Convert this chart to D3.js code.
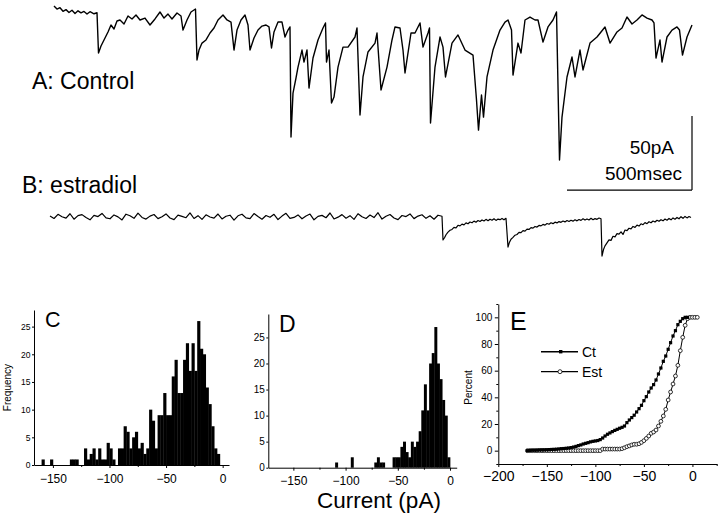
<!DOCTYPE html>
<html><head><meta charset="utf-8">
<script src="https://cdn.jsdelivr.net/npm/d3@7"></script>
<style>body{margin:0;background:#fff}svg{display:block}text{font-family:"Liberation Sans",Arial,Helvetica,sans-serif;fill:#000}</style>
</head><body><svg id="c" width="720" height="520"></svg>
<script>
// ---- Trace A (control): time in ms, current in pA ----
const aTime = [0,12,24,36,48,60,72,84,96,108,120,132,144,160,172,178,188,204,216,228,240,252,264,280,296,312,328,344,364,384,404,424,440,456,472,492,508,516,532,548,566,572,580,592,608,624,640,656,676,692,708,720,732,748,764,776,784,800,816,832,848,860,870,880,896,912,924,936,944,948,956,968,976,992,1000,1012,1020,1036,1056,1076,1086,1090,1100,1110,1120,1136,1156,1176,1204,1212,1224,1236,1256,1284,1292,1308,1332,1352,1364,1384,1396,1404,1428,1444,1464,1476,1496,1502,1506,1524,1544,1556,1566,1592,1616,1644,1676,1690,1698,1710,1718,1732,1756,1784,1804,1816,1830,1836,1856,1868,1884,1904,1924,1936,1956,1976,1996,2010,2022,2032,2052,2072,2084,2104,2116,2144,2172,2204,2224,2252,2272,2292,2312,2332,2352,2372,2392,2400,2408,2424,2432,2452,2472,2492,2502,2514,2532,2552];
const aCurrent = [4.1,2.0,2.9,0.5,1.6,-0.3,1.2,-1.0,0.8,-0.6,0.4,-1.4,0.2,-1.2,-0.5,-27.7,-23.0,-17.6,-13.5,-8.8,-11.5,-6.1,-5.4,-8.1,-2.7,-4.7,-2.0,-5.4,-4.1,-8.8,-4.7,0,-4.1,-1.4,-4.7,-0.7,-2.7,-12.2,-5.4,0,2.0,-32.4,-25.7,-21.0,-18.9,-14.2,-10.8,-5.4,-2.0,-5.4,-6.8,-25.7,-12.2,-5.4,-2.0,-8.8,-25.7,-17.6,-12.2,-9.5,-8.8,-10.1,-24.3,-13.5,-6.8,-6.8,-16.9,-12.2,-10.1,-84.5,-54.8,-44.6,-37.2,-25.7,-33.8,-25.7,-51.4,-31.1,-18.9,-10.8,-7.4,-33.8,-25.7,-61.5,-57.5,-37.2,-23.7,-23.7,-16.9,-10.8,-69.6,-43.9,-27.0,-21.0,-14.2,-52.7,-37.2,-18.9,-10.1,-10.8,-25.7,-41.2,-14.2,-14.2,-7.4,-23.7,-14.2,-10.8,-75.0,-37.2,-16.9,-23.7,-43.9,-21.0,-15.5,-25.7,-29.1,-59.5,-79.8,-56.1,-71.0,-43.9,-25.7,-12.2,-6.8,-5.4,-12.2,-42.6,-21.0,-27.7,-5.4,-3.4,-5.4,-5.4,-20.3,-10.1,-5.4,0,-100.0,-71.0,-43.9,-30.4,-43.9,-25.7,-39.2,-21.0,-16.9,-10.1,-21.0,-13.5,-10.8,-3.4,-8.1,-5.4,-2.0,-4.1,-5.4,-7.4,-31.1,-18.9,-33.8,-16.9,-12.2,-10.1,-12.2,-29.1,-16.9,-8.8];

// ---- Trace B (estradiol): quiet baseline, then three events ----
const bBaseTime = [0,16,32,48,64,80,96,112,128,144,160,176,192,208,224,240,256,272,288,304,320,336,352,368,384,400,416,432,448,464,480,496,512,528,544,560,576,592,608,624,640,656,672,688,704,720,736,752,768,784,800,816,832,848,864,880,896,912,928,944,960,976,992,1008,1024,1040,1056,1072,1088,1104,1120,1136,1152,1168,1184,1200,1216,1232,1248,1264,1280,1296,1312,1328,1344,1360,1376,1392,1408,1424,1440,1456,1472,1488,1504,1520,1536,1552];
const bBaseCurrent = [0.7,-1.0,1.8,0.2,-0.8,2.2,-1.5,0.9,1.6,-0.4,-1.9,1.1,0.3,2.4,-0.6,-1.2,1.4,0.1,-2.0,1.9,0.8,-0.9,2.6,-0.3,-1.4,0.6,1.7,-1.1,0.2,2.1,-0.7,-1.8,1.3,0.4,-0.5,2.8,-1.0,0.9,-1.6,1.5,0.0,-0.8,2.0,-1.3,0.5,1.2,-2.1,0.8,1.9,-0.6,-1.1,2.3,0.3,-1.5,1.0,-0.2,1.8,-1.7,0.6,2.5,-0.9,-0.3,1.4,-1.2,0.7,2.0,-1.9,0.4,1.1,-0.5,2.7,-1.3,-0.1,1.6,-0.8,0.9,-1.6,2.2,0.2,-1.0,1.3,-0.4,2.9,-1.4,0.5,1.7,-0.7,-1.8,1.0,0.3,2.1,-1.1,0.6,1.5,-0.9,0.8,-1.5,1.2];
const bEvtTime = [1568,1572,1578,1584,1592,1600,1608,1616,1624,1632,1640,1648,1656,1664,1672,1680,1688,1696,1704,1712,1720,1728,1736,1744,1752,1760,1768,1776,1784,1792,1800,1808,1816,1824,
 1832,1838,1844,1852,1860,1868,1876,1884,1892,1900,1908,1916,1924,1932,1940,1948,1956,1964,1972,1980,1988,1996,2004,2012,2020,2028,2036,2044,2052,2060,2068,2076,2084,2092,2100,2108,2116,2124,2132,2140,2148,2156,2164,2172,2180,2188,2196,2204,
 2208,2214,2220,2228,2236,2244,2252,2260,2268,2276,2284,2292,2300,2308,2316,2324,2332,2340,2348,2356,2364,2372,2380,2388,2396,2404,2412,2420,2428,2436,2444,2452,2460,2468,2476,2484,2492,2500,2508,2516,2524,2532,2540,2548,2556,2564];
const bEvtCurrent = [0.5,-15.5,-14,-12.0,-10.2,-9.0,-8.4,-7.0,-7.4,-5.6,-6.0,-4.8,-5.3,-4.0,-4.6,-3.4,-3.9,-2.8,-3.5,-2.4,-3.0,-2.0,-2.7,-1.6,-2.5,-1.5,-2.2,-1.2,-2.3,-1.4,-1.8,-1.0,-1.9,-0.9,
 -20.3,-17,-15.0,-13.8,-12.3,-11.8,-10.4,-10.6,-9.2,-9.5,-8.2,-8.4,-7.2,-7.5,-6.4,-6.8,-5.7,-6.0,-5.0,-5.5,-4.4,-4.9,-3.9,-4.5,-3.5,-4.0,-3.1,-3.6,-2.7,-3.3,-2.4,-3.0,-2.2,-2.8,-1.9,-2.6,-1.7,-2.3,-1.2,-2.1,-1.3,-2.0,-0.9,-1.8,-1.1,-1.6,-0.7,-1.2,
 -26.4,-22,-19.5,-17.5,-15.5,-15.8,-13.0,-13.4,-11.2,-11.6,-10.0,-11.8,-8.8,-9.2,-7.6,-8.0,-6.4,-7.0,-5.5,-6.1,-4.6,-5.2,-3.8,-4.5,-3.2,-3.9,-2.7,-3.4,-2.2,-2.9,-1.8,-2.6,-1.4,-2.2,-1.0,-1.9,-0.6,-1.5,-0.3,-1.2,0.2,-0.9,0.4,-0.6,0.3,-0.4];

// ---- Histogram C (control) ----
const cBinLeft = [-160,-157.5,-155,-152.5,-150,-147.5,-145,-142.5,-140,-137.5,-135,-132.5,-130,-127.5,-125,-122.5,-120,-117.5,-115,-112.5,-110,-107.5,-105,-102.5,-100,-97.5,-95,-92.5,-90,-87.5,-85,-82.5,-80,-77.5,-75,-72.5,-70,-67.5,-65,-62.5,-60,-57.5,-55,-52.5,-50,-47.5,-45,-42.5,-40,-37.5,-35,-32.5,-30,-27.5,-25,-22.5,-20,-17.5,-15,-12.5,-10,-7.5,-5];
const cCounts = [1,0,0,1,0,0,0,0,0,0,1,1,1,0,0,3,1,2,3,1,3,1,1,4,3,1,0,3,3,7,6,3,5,6,3,4,2,3,10,8,3,9,9,13,9,9,16,19,13,13,19,22,17,22,17,26,21,20,14,11,7,3,2];
// ---- Histogram D (estradiol) ----
const dBinLeft = [-110,-107.5,-105,-102.5,-100,-97.5,-95,-92.5,-90,-87.5,-85,-82.5,-80,-77.5,-75,-72.5,-70,-67.5,-65,-62.5,-60,-57.5,-55,-52.5,-50,-47.5,-45,-42.5,-40,-37.5,-35,-32.5,-30,-27.5,-25,-22.5,-20,-17.5,-15,-12.5,-10,-7.5,-5,-2.5];
const dCounts = [1,0,0,0,0,0,2,0,0,0,0,0,0,0,0,1,2,1,1,0,0,0,2,2,2,4,5,3,2,5,4,5,7,11,16,11,20,22,27,20,17,13,10,2];
const binWidth = 2.5;
const histXTicks = [-150,-100,-50,0];
const histXMinor = [-125,-75,-25];
const histYTicks = [0,5,10,15,20,25];

// ---- Cumulative E ----
const ctX = [-170,-167.5,-165,-162.5,-160,-157.5,-155,-152.5,-150,-147.5,-145,-142.5,-140,-137.5,-135,-132.5,-130,-127.5,-125,-122.5,-120,-117.5,-115,-112.5,-110,-107.5,-105,-102.5,-100,-97.5,-95,-92.5,-90,-87.5,-85,-82.5,-80,-77.5,-75,-72.5,-70,-67.5,-65,-62.5,-60,-57.5,-55,-52.5,-50,-47.5,-45,-42.5,-40,-37.5,-35,-32.5,-30,-27.5,-25,-22.5,-20,-17.5,-15,-12.5,-10,-7.5,-5];
const ctY = [0,0.2,0.3,0.3,0.4,0.5,0.6,0.6,0.7,0.8,0.9,1.0,1.1,1.3,1.5,1.6,1.8,2.0,2.3,2.7,3.2,3.8,4.3,5.0,5.5,6.0,6.6,7.0,7.3,7.6,8.3,9.5,11,12.3,13.3,14.3,15.2,16,16.8,17.5,18.5,21,23,24.8,26.6,29,31.5,34,37.5,40.5,44,47,49.5,53,57.5,62,67,71,76,81,86,90,94.5,97,99,100,100];
const estX = [-170,-167.5,-165,-162.5,-160,-157.5,-155,-152.5,-150,-147.5,-145,-142.5,-140,-137.5,-135,-132.5,-130,-127.5,-125,-122.5,-120,-117.5,-115,-112.5,-110,-107.5,-105,-102.5,-100,-97.5,-95,-92.5,-90,-87.5,-85,-82.5,-80,-77.5,-75,-72.5,-70,-67.5,-65,-62.5,-60,-57.5,-55,-52.5,-50,-47.5,-45,-42.5,-40,-37.5,-35,-32.5,-30,-27.5,-25,-22.5,-20,-17.5,-15,-12.5,-10,-7.5,-5,-2.5,0,2.5,5];
const estY = [0,0,0,0,0,0,0,0,0,0,0,0,0,0,0,0,0,0,0,0,0,0,0,0,0,0,0,0,0,0,0,1.2,1.2,1.2,1.2,1.2,1.2,1.2,1.2,1.5,2.2,3,3.6,4.3,4.8,4.8,5.2,6.2,7.5,9.2,11,13,14,15.5,18.5,22,26,31,38,44,50,56,64,75,85,94,99,100,100,100,100];
const eXTicks = [-200,-150,-100,-50,0];
const eXMinor = [-175,-125,-75,-25,25];
const eYTicks = [0,20,40,60,80,100];
const eYMinor = [-10,10,30,50,70,90,110];
const seriesNames = ["Ct","Est"];
const scaleBarPA = 50, scaleBarMS = 500;

const FONT = '"Liberation Sans",Arial,Helvetica,sans-serif';
const svg = d3.select('#c');

// ---------- Traces ----------
const xA = d3.scaleLinear().domain([0, 2552]).range([54, 692]);
const yA = d3.scaleLinear().domain([0, -100]).range([12, 160]);
const xB = d3.scaleLinear().domain([0, 2568]).range([50, 692]);
const yB = d3.scaleLinear().domain([0, -100]).range([217, 365]);

svg.append('path').datum(d3.zip(aTime, aCurrent))
  .attr('d', d3.line().x(d => xA(d[0])).y(d => yA(d[1])))
  .attr('fill', 'none').attr('stroke', '#000').attr('stroke-width', 1.4).attr('stroke-linejoin', 'round');
const bData = d3.zip(bBaseTime, bBaseCurrent).concat(d3.zip(bEvtTime, bEvtCurrent));
svg.append('path').datum(bData)
  .attr('d', d3.line().x(d => xB(d[0])).y(d => yB(d[1])))
  .attr('fill', 'none').attr('stroke', '#000').attr('stroke-width', 1.2).attr('stroke-linejoin', 'round');

svg.append('text').attr('x', 32).attr('y', 89).attr('font-size', 23).text('A: Control');
svg.append('text').attr('x', 22).attr('y', 193).attr('font-size', 23).text('B: estradiol');

// scale bar (uses trace-A scales)
const sbRight = xA(2552), sbLeft = xA(2552 - scaleBarMS);
const sbBottom = yA(-120.3), sbTop = yA(-120.3 + scaleBarPA);
svg.append('line').attr('x1', sbRight).attr('x2', sbRight).attr('y1', sbTop).attr('y2', sbBottom).attr('stroke', '#000').attr('stroke-width', 1.2);
svg.append('line').attr('x1', sbLeft).attr('x2', sbRight).attr('y1', sbBottom).attr('y2', sbBottom).attr('stroke', '#000').attr('stroke-width', 1.2);
svg.append('text').attr('x', 674).attr('y', 154).attr('text-anchor', 'end').attr('font-size', 19).text(scaleBarPA + 'pA');
svg.append('text').attr('x', 682).attr('y', 180).attr('text-anchor', 'end').attr('font-size', 19).text(scaleBarMS + 'msec');

function styleAxis(g, fs) {
  g.selectAll('text').attr('font-size', fs).attr('font-family', FONT).attr('fill', '#000');
  g.selectAll('line').attr('stroke', '#000');
  g.select('.domain').attr('stroke', '#000').attr('stroke-width', 1);
  g.attr('font-family', FONT);
}

function drawHist(bins, counts, x, y, yFs, xFs, xPad, yPad, yTick) {
  const data = d3.zip(bins, counts).filter(d => d[1] > 0);
  svg.append('g').selectAll('rect').data(data).join('rect')
    .attr('x', d => x(d[0])).attr('width', d => x(d[0] + binWidth) - x(d[0]) + 0.35)
    .attr('y', d => y(d[1])).attr('height', d => y(0) - y(d[1])).attr('fill', '#000');
  const gx = svg.append('g').attr('transform', `translate(0,${y(0)})`)
    .call(d3.axisBottom(x).tickValues(histXTicks).tickSize(3).tickSizeOuter(0).tickPadding(xPad).tickFormat(d3.format('d')));
  styleAxis(gx, xFs);
  const gxm = svg.append('g').attr('transform', `translate(0,${y(0)})`)
    .call(d3.axisBottom(x).tickValues(histXMinor).tickSize(2).tickSizeOuter(0).tickFormat(''));
  gxm.select('.domain').remove(); gxm.selectAll('line').attr('stroke', '#000');
  const gy = svg.append('g').attr('transform', `translate(${x.range()[0]},0)`)
    .call(d3.axisLeft(y).tickValues(histYTicks).tickSize(yTick).tickSizeOuter(0).tickPadding(yPad));
  styleAxis(gy, yFs);
}

// ---------- C ----------
const xC = d3.scaleLinear().domain([-166.7, 5.6]).range([34, 229]);
const yC = d3.scaleLinear().domain([0, 28]).range([465, 310]);
drawHist(cBinLeft, cCounts, xC, yC, 8.5, 12, 6, 1.5, 2);
svg.append('text').attr('x', 45).attr('y', 327).attr('font-size', 21.5).text('C');
svg.append('text').attr('transform', 'translate(11,387.5) rotate(-90)').attr('text-anchor', 'middle').attr('font-size', 10).text('Frequency');

// ---------- D ----------
const xD = d3.scaleLinear().domain([-174, 6.4]).range([268.3, 456.7]);
const yD = d3.scaleLinear().domain([0, 29.5]).range([467.7, 314]);
drawHist(dBinLeft, dCounts, xD, yD, 10, 12, 5.5, 1.5, 2);
svg.append('text').attr('x', 279).attr('y', 332).attr('font-size', 23).text('D');
svg.append('text').attr('x', 379).attr('y', 508).attr('text-anchor', 'middle').attr('font-size', 22.5).text('Current (pA)');

// ---------- E ----------
const xE = d3.scaleLinear().domain([-200, 25]).range([498.3, 716.7]);
const yE = d3.scaleLinear().domain([-10, 110]).range([464, 304]);
const gxE = svg.append('g').attr('transform', `translate(0,${yE(-10)})`)
  .call(d3.axisBottom(xE).tickValues(eXTicks).tickSize(3).tickSizeOuter(0).tickPadding(4.5).tickFormat(d3.format('d')));
styleAxis(gxE, 14);
const gxEm = svg.append('g').attr('transform', `translate(0,${yE(-10)})`)
  .call(d3.axisBottom(xE).tickValues(eXMinor).tickSize(2).tickSizeOuter(0).tickFormat(''));
gxEm.select('.domain').remove(); gxEm.selectAll('line').attr('stroke', '#000');
const gyE = svg.append('g').attr('transform', `translate(${xE(-200)},0)`)
  .call(d3.axisLeft(yE).tickValues(eYTicks).tickSize(3.5).tickSizeOuter(0).tickPadding(2.5));
styleAxis(gyE, 10);
const gyEm = svg.append('g').attr('transform', `translate(${xE(-200)},0)`)
  .call(d3.axisLeft(yE).tickValues(eYMinor).tickSize(2).tickSizeOuter(0).tickFormat(''));
gyEm.select('.domain').remove(); gyEm.selectAll('line').attr('stroke', '#000');

const lineE = d3.line().x(d => xE(d[0])).y(d => yE(d[1]));
const ctData = d3.zip(ctX, ctY), estData = d3.zip(estX, estY);
svg.append('path').datum(ctData).attr('d', lineE).attr('fill', 'none').attr('stroke', '#000').attr('stroke-width', 1);
svg.append('path').datum(estData).attr('d', lineE).attr('fill', 'none').attr('stroke', '#000').attr('stroke-width', 1);
svg.append('g').selectAll('circle').data(estData).join('circle')
  .attr('cx', d => xE(d[0])).attr('cy', d => yE(d[1])).attr('r', 1.9)
  .attr('fill', '#fff').attr('stroke', '#000').attr('stroke-width', 0.8);
svg.append('g').selectAll('rect').data(ctData).join('rect')
  .attr('x', d => xE(d[0]) - 1.6).attr('y', d => yE(d[1]) - 1.6).attr('width', 3.2).attr('height', 3.2).attr('fill', '#000');

// legend
const lg = svg.append('g');
lg.append('line').attr('x1', 541).attr('x2', 578).attr('y1', 351.7).attr('y2', 351.7).attr('stroke', '#000').attr('stroke-width', 1.6);
lg.append('rect').attr('x', 559).attr('y', 350).attr('width', 3.4).attr('height', 3.4).attr('fill', '#000');
lg.append('text').attr('x', 582).attr('y', 356.7).attr('font-size', 14).text(seriesNames[0]);
lg.append('line').attr('x1', 541).attr('x2', 578).attr('y1', 371.7).attr('y2', 371.7).attr('stroke', '#000').attr('stroke-width', 1.2);
lg.append('circle').attr('cx', 560).attr('cy', 371.7).attr('r', 2).attr('fill', '#fff').attr('stroke', '#000').attr('stroke-width', 0.8);
lg.append('text').attr('x', 582).attr('y', 376.7).attr('font-size', 14).text(seriesNames[1]);

svg.append('text').attr('x', 510).attr('y', 329.5).attr('font-size', 25).text('E');
svg.append('text').attr('transform', 'translate(471.5,387.5) rotate(-90)').attr('text-anchor', 'middle').attr('font-size', 10).text('Percent');
</script></body></html>
